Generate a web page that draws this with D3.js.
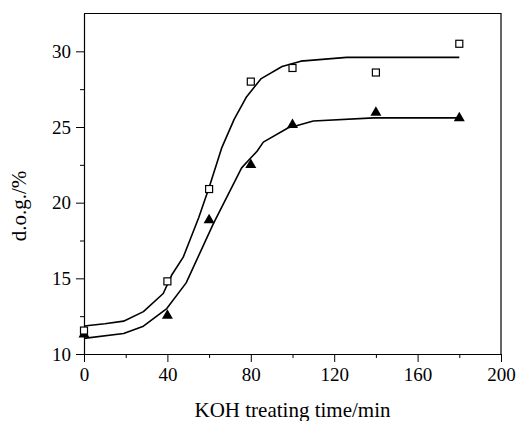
<!DOCTYPE html>
<html>
<head>
<meta charset="utf-8">
<script src="https://cdn.jsdelivr.net/npm/d3@7"></script>
<style>
  body { margin: 0; background: #fff; }
</style>
</head>
<body>
<svg id="chart" width="518" height="421"></svg>
<script>
// measured points
const timeX = [0, 40, 60, 80, 100, 140, 180];
const squareY = [11.55, 14.8, 20.9, 28.0, 28.9, 28.6, 30.5];
const triangleY = [11.35, 12.6, 18.9, 22.55, 25.2, 26.0, 25.65];

// fitted curves
const upperFitX = [0, 10, 19, 28.5, 38, 42, 47.6, 55, 60, 66, 72, 78, 85, 95, 104, 126, 180];
const upperFitY = [11.85, 12.0, 12.17, 12.8, 14.0, 15.2, 16.4, 19.0, 21.0, 23.6, 25.5, 27.0, 28.2, 29.0, 29.35, 29.6, 29.6];
const lowerFitX = [0, 19, 28.5, 39.7, 49, 62, 75.6, 79.6, 83, 86, 98, 101, 110, 139, 180];
const lowerFitY = [11.03, 11.36, 11.84, 13.0, 14.7, 18.6, 22.3, 22.9, 23.4, 24.0, 24.95, 25.05, 25.4, 25.6, 25.6];

const xMajor = [0, 40, 80, 120, 160, 200];
const xMinor = [20, 60, 100, 140, 180];
const yMajor = [10, 15, 20, 25, 30];
const yMinor = [12.5, 17.5, 22.5, 27.5];

const serif = "Liberation Serif";

const margin = { top: 13.5, right: 17, bottom: 67, left: 84 },
      width = 518 - margin.left - margin.right,
      height = 421 - margin.top - margin.bottom;

const svg = d3.select("#chart")
  .append("g")
  .attr("transform", `translate(${margin.left},${margin.top})`);

const x = d3.scaleLinear().domain([0, 200]).range([0, width]);
const y = d3.scaleLinear().domain([10, 32.5]).range([height, 0]);

// minor ticks first, then major axis
svg.append("g")
  .attr("transform", `translate(0,${height})`)
  .call(d3.axisBottom(x).tickValues(xMinor).tickSize(4).tickFormat(""))
  .call(g => g.select(".domain").remove());

svg.append("g")
  .attr("transform", `translate(0,${height})`)
  .call(d3.axisBottom(x).tickValues(xMajor).tickSize(8).tickSizeOuter(0).tickPadding(6));

svg.append("g")
  .call(d3.axisLeft(y).tickValues(yMinor).tickSize(4).tickFormat(""))
  .call(g => g.select(".domain").remove());

svg.append("g")
  .call(d3.axisLeft(y).tickValues(yMajor).tickSize(8).tickSizeOuter(0).tickPadding(5));

svg.selectAll("g").attr("font-family", null);
svg.selectAll(".tick text")
  .attr("font-family", serif)
  .attr("font-size", 19);

// frame top and right
svg.append("path")
  .attr("d", `M0,0H${width}V${height}`)
  .attr("fill", "none")
  .attr("stroke", "#000")
  .attr("stroke-width", 1.2);

svg.selectAll(".domain").attr("stroke-width", 1.2);

// axis titles
svg.append("text")
  .attr("x", width / 2)
  .attr("y", height + 62.5)
  .attr("text-anchor", "middle")
  .attr("font-family", serif)
  .attr("font-size", 21)
  .text("KOH treating time/min");

svg.append("text")
  .attr("transform", "rotate(-90)")
  .attr("x", -(206 - margin.top))
  .attr("y", 26 - margin.left)
  .attr("text-anchor", "middle")
  .attr("font-family", serif)
  .attr("font-size", 21)
  .text("d.o.g./%");

const line = d3.line().x(d => x(d[0])).y(d => y(d[1]));

svg.append("path")
  .datum(d3.zip(upperFitX, upperFitY))
  .attr("fill", "none")
  .attr("stroke", "#000")
  .attr("stroke-width", 1.6)
  .attr("stroke-linejoin", "round")
  .attr("d", line);

svg.append("path")
  .datum(d3.zip(lowerFitX, lowerFitY))
  .attr("fill", "none")
  .attr("stroke", "#000")
  .attr("stroke-width", 1.6)
  .attr("stroke-linejoin", "round")
  .attr("d", line);

// triangles
svg.selectAll(".tri")
  .data(d3.zip(timeX, triangleY))
  .enter()
  .append("path")
  .attr("class", "tri")
  .attr("transform", d => `translate(${x(d[0])},${y(d[1])})`)
  .attr("d", "M0,-5.5L5.5,4L-5.5,4Z")
  .attr("fill", "#000");

// open squares
svg.selectAll(".sq")
  .data(d3.zip(timeX, squareY))
  .enter()
  .append("rect")
  .attr("class", "sq")
  .attr("x", d => x(d[0]) - 3.5)
  .attr("y", d => y(d[1]) - 3.5)
  .attr("width", 7)
  .attr("height", 7)
  .attr("fill", "#fff")
  .attr("stroke", "#000")
  .attr("stroke-width", 1.2);
</script>
</body>
</html>
